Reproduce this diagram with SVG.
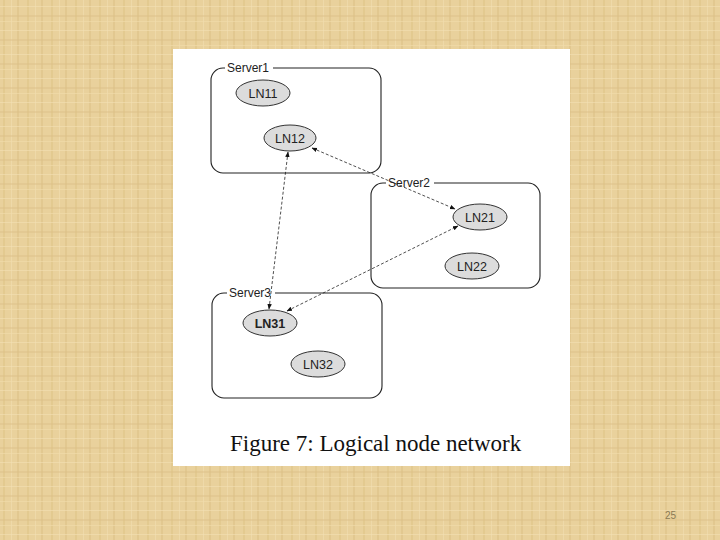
<svg xmlns="http://www.w3.org/2000/svg" width="720" height="540" viewBox="0 0 720 540">
<defs>
<pattern id="tex" width="24" height="24" patternUnits="userSpaceOnUse">
<rect width="24" height="24" fill="#E9D19C"/>
<rect x="3" y="0" width="2" height="24" fill="#E0C489" opacity="0.6"/>
<rect x="11" y="0" width="1" height="24" fill="#F2DEB0" opacity="0.7"/>
<rect x="17" y="0" width="2" height="24" fill="#DCBF84" opacity="0.5"/>
<rect x="0" y="6" width="24" height="1" fill="#F3E0B4" opacity="0.6"/>
<rect x="0" y="15" width="24" height="2" fill="#DDC087" opacity="0.45"/>
<rect x="0" y="21" width="24" height="1" fill="#F1DCAC" opacity="0.6"/>
</pattern>
<marker id="ah" viewBox="0 0 10 10" refX="9" refY="5" markerWidth="7" markerHeight="7" orient="auto-start-reverse">
<path d="M0,1 L10,5 L0,9 z" fill="#111"/>
</marker>
<style>
.box{fill:none;stroke:#222;stroke-width:1.1}
.lblbg{fill:#fff}
.lbl{font-family:"Liberation Sans",Arial,sans-serif;font-size:12px;fill:#222}
.node{fill:#DCDCDC;stroke:#333;stroke-width:1}
.nt{font-family:"Liberation Sans",Arial,sans-serif;font-size:12.5px;fill:#222;text-anchor:middle}
.edge{stroke:#222;stroke-width:0.8;stroke-dasharray:3,2;fill:none;marker-start:url(#ah);marker-end:url(#ah)}
.cap{font-family:"Liberation Serif","Times New Roman",serif;font-size:23px;fill:#111}
.pg{font-family:"Liberation Sans",Arial,sans-serif;font-size:10px;fill:#8a7a55}
</style>
</defs>
<rect width="720" height="540" fill="url(#tex)"/>
<rect x="173" y="49" width="397" height="417" fill="#fff"/>

<g id="server1">
<rect class="box" x="211" y="68" width="170" height="105" rx="12"/>
<rect class="lblbg" x="225" y="62" width="48" height="12"/>
<text class="lbl" x="227" y="72">Server1</text>
</g>
<g id="server2">
<rect class="box" x="371" y="183" width="169" height="105" rx="12"/>
<rect class="lblbg" x="386" y="177" width="48" height="12"/>
<text class="lbl" x="388" y="187">Server2</text>
</g>
<g id="server3">
<rect class="box" x="212" y="293" width="170" height="105" rx="12"/>
<rect class="lblbg" x="227" y="287" width="48" height="12"/>
<text class="lbl" x="229" y="297">Server3</text>
</g>

<g id="LN11"><ellipse class="node" cx="263" cy="93" rx="27" ry="13"/><text class="nt" x="263" y="97.5">LN11</text></g>
<g id="LN12"><ellipse class="node" cx="290" cy="138" rx="26" ry="13"/><text class="nt" x="290" y="142.5">LN12</text></g>
<g id="LN21"><ellipse class="node" cx="480" cy="217" rx="27" ry="13"/><text class="nt" x="480" y="221.5">LN21</text></g>
<g id="LN22"><ellipse class="node" cx="472" cy="266" rx="27" ry="13"/><text class="nt" x="472" y="270.5">LN22</text></g>
<g id="LN31"><ellipse class="node" cx="270" cy="323" rx="27" ry="13"/><text class="nt" x="270" y="328" font-weight="bold">LN31</text></g>
<g id="LN32"><ellipse class="node" cx="318" cy="364" rx="27" ry="13"/><text class="nt" x="318" y="368.5">LN32</text></g>

<g id="connectors">
<line class="edge" x1="312" y1="148" x2="455" y2="209"/>
<line class="edge" x1="288" y1="152" x2="269" y2="309"/>
<line class="edge" x1="287" y1="311" x2="458" y2="226"/>
</g>

<text class="cap" x="230" y="451">Figure 7: Logical node network</text>
<text class="pg" x="665" y="519">25</text>
</svg>
